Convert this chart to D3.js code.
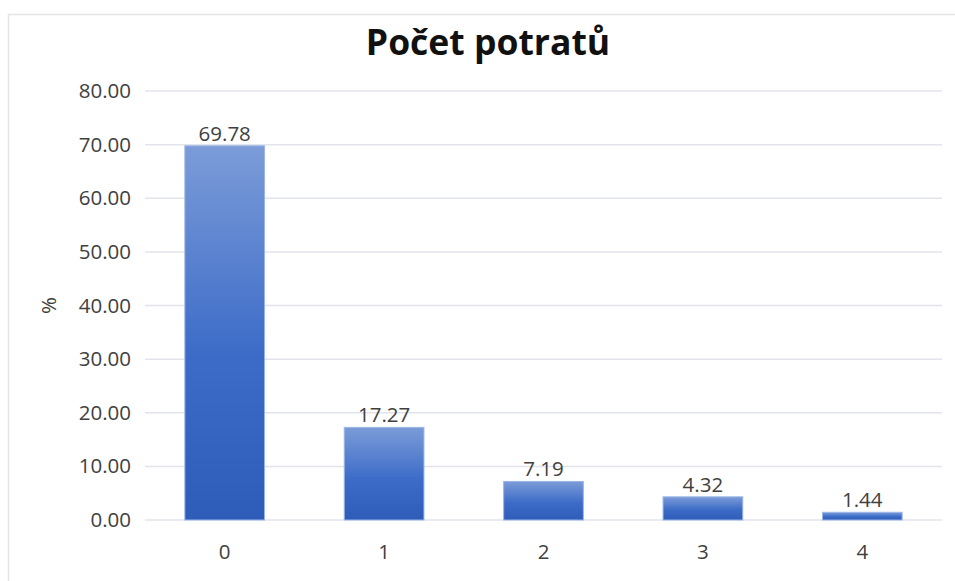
<!doctype html>
<html lang="cs">
<head>
  <meta charset="utf-8">
  <script src="https://d3js.org/d3.v7.min.js"></script>
  <style>
    body { margin: 0; background: #fff; }
    svg text { font-family: "Open Sans", "Noto Sans", sans-serif; }
  </style>
</head>
<body>
<svg width="955" height="581"></svg>
<script>

var categories = ["0", "1", "2", "3", "4"],
    values = [69.78, 17.27, 7.19, 4.32, 1.44],
    yTicks = [0, 10, 20, 30, 40, 50, 60, 70, 80];

var svg = d3.select("svg"),
    margin = {top: 91, right: 13, bottom: 61, left: 145},
    width = 955 - margin.left - margin.right,
    height = 581 - margin.top - margin.bottom;

// chart frame (runs off the right and bottom of the picture)
svg.append("rect")
    .attr("x", 8.5).attr("y", 14.5)
    .attr("width", 1000).attr("height", 1000)
    .attr("fill", "none")
    .attr("stroke", "#e3e3e8")
    .attr("stroke-width", 1.5);

var grad = svg.append("defs").append("linearGradient")
    .attr("id", "barFill")
    .attr("x1", 0).attr("y1", 0).attr("x2", 0).attr("y2", 1);
grad.append("stop").attr("offset", "0%").attr("stop-color", "#7c9cd8");
grad.append("stop").attr("offset", "55%").attr("stop-color", "#3d6cc8");
grad.append("stop").attr("offset", "100%").attr("stop-color", "#2d5cb9");

var g = svg.append("g")
    .attr("transform", "translate(" + margin.left + "," + margin.top + ")");

var x = d3.scaleBand()
    .domain(categories)
    .range([0, width])
    .paddingInner(0.5)
    .paddingOuter(0.25);

var y = d3.scaleLinear()
    .domain([0, 80])
    .range([height, 0]);

// gridlines
g.append("g")
    .selectAll("line")
    .data(yTicks)
    .join("line")
    .attr("x1", 0).attr("x2", width)
    .attr("y1", function(d) { return y(d); })
    .attr("y2", function(d) { return y(d); })
    .attr("stroke", "#e2e4ec")
    .attr("stroke-width", 1.5);

// y axis labels
var yAxis = g.append("g")
    .call(d3.axisLeft(y).tickValues(yTicks).tickFormat(d3.format(".2f")).tickSize(0).tickPadding(14));
yAxis.select(".domain").remove();
yAxis.selectAll("text")
    .attr("font-size", 20.5)
    .attr("fill", "#404040");

// x axis labels
var xAxis = g.append("g")
    .attr("transform", "translate(0," + height + ")")
    .call(d3.axisBottom(x).tickSize(0).tickPadding(24));
xAxis.select(".domain").remove();
xAxis.selectAll("text")
    .attr("font-size", 20.5)
    .attr("fill", "#404040");

// bars
g.selectAll(".bar")
    .data(values)
    .join("rect")
    .attr("class", "bar")
    .attr("x", function(d, i) { return x(categories[i]); })
    .attr("y", function(d) { return y(d); })
    .attr("width", x.bandwidth())
    .attr("height", function(d) { return height - y(d); })
    .attr("fill", "url(#barFill)")
    .attr("stroke", "#9ab5e6")
    .attr("stroke-width", 1);

// value labels
g.selectAll(".label")
    .data(values)
    .join("text")
    .attr("class", "label")
    .attr("x", function(d, i) { return x(categories[i]) + x.bandwidth() / 2; })
    .attr("y", function(d) { return y(d) - 5; })
    .attr("text-anchor", "middle")
    .attr("font-size", 20.5)
    .attr("fill", "#404040")
    .text(function(d) { return d.toFixed(2); });

// title
svg.append("text")
    .attr("x", 488)
    .attr("y", 55)
    .attr("text-anchor", "middle")
    .attr("font-size", 35.5)
    .attr("font-weight", "bold")
    .attr("fill", "#111")
    .text("Počet potratů");

// y axis title
svg.append("text")
    .attr("transform", "translate(56," + (margin.top + height / 2) + ") rotate(-90)")
    .attr("text-anchor", "middle")
    .attr("font-size", 20.5)
    .attr("fill", "#404040")
    .text("%");

</script>
</body>
</html>
